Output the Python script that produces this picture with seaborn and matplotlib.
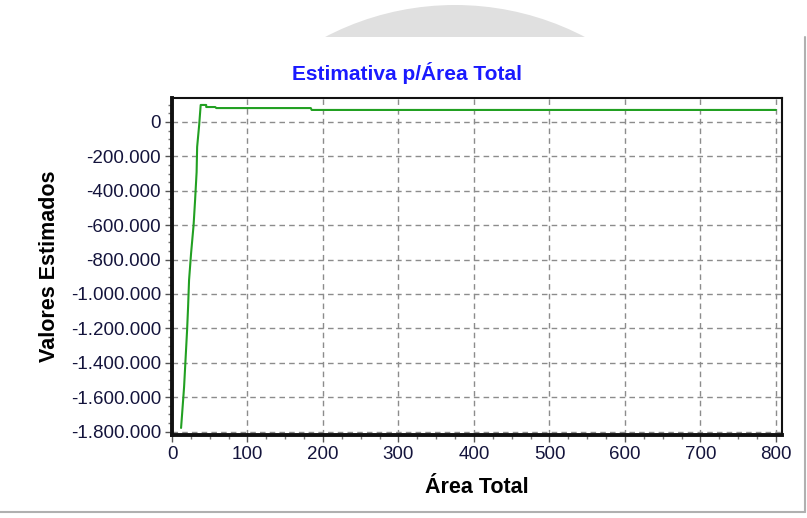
import matplotlib
matplotlib.use('Agg')
import matplotlib.pyplot as plt
import matplotlib.patches as mpatches
from matplotlib.ticker import FuncFormatter, MultipleLocator
import seaborn as sns
import pandas as pd

# values
area_total = [12, 13.3, 16, 20, 21.3, 22.6, 25.3, 28.6, 30.6, 32.6, 33.3, 36, 38,
              45.3, 45.3, 57.3, 58.6, 183.8, 185, 800]
valores = [-1779000, -1703000, -1541000, -1209000, -1076000, -919000, -762000,
           -599000, -453000, -291000, -145000, -17000, 99000,
           99000, 87000, 87000, 81000, 81000, 70000, 70000]

df = pd.DataFrame({'area': area_total, 'valor': valores})

sns.set_style('white')
plt.rcParams['font.family'] = ['Liberation Sans', 'DejaVu Sans']

fig = plt.figure(figsize=(8.07, 5.18), dpi=100)

# faint globe behind the panel and the window edges
fig.patches.append(mpatches.Ellipse((455 / 807, 1 - 285 / 518), 560 / 807, 560 / 518,
                                    transform=fig.transFigure, facecolor='#e0e0e0',
                                    edgecolor='none', zorder=-2))
fig.patches.append(mpatches.Rectangle((0, 0), 1, 1 - 37 / 518, transform=fig.transFigure,
                                      facecolor='white', edgecolor='none', zorder=-1))
fig.lines.append(plt.Line2D([805 / 807, 805 / 807], [1 - 512 / 518, 1 - 37 / 518],
                            transform=fig.transFigure, color='#b0b0b0', lw=1.5))
fig.lines.append(plt.Line2D([0, 805 / 807], [1 - 512 / 518, 1 - 512 / 518],
                            transform=fig.transFigure, color='#b0b0b0', lw=1.5))

ax = fig.add_axes([172 / 807, 1 - 435 / 518, 610 / 807, 337 / 518])
ax.set_zorder(5)
sns.lineplot(data=df, x='area', y='valor', ax=ax, color='#22a022', lw=1.5,
             estimator=None, sort=False)

ax.set_xlim(0, 808)
ax.set_ylim(-1820000, 139500)
ax.xaxis.set_major_locator(MultipleLocator(100))
ax.xaxis.set_minor_locator(MultipleLocator(25))
ax.yaxis.set_major_locator(MultipleLocator(200000))
ax.yaxis.set_minor_locator(MultipleLocator(50000))
ax.yaxis.set_major_formatter(FuncFormatter(lambda v, p: f'{int(round(v)):,}'.replace(',', '.')))

ax.grid(True, which='major', color='#8c8c8c', ls=(0, (4, 3)), lw=1)
ax.tick_params(which='major', direction='out', length=5, width=1, color='#555555',
               labelsize=13.5, labelcolor='#14143c', left=True, bottom=True, pad=3)
ax.tick_params(which='minor', direction='out', length=3, width=1, color='#777777',
               left=True, bottom=True)

for side, w in [('left', 2.8), ('bottom', 2.8), ('top', 1.5), ('right', 1.5)]:
    ax.spines[side].set_visible(True)
    ax.spines[side].set_color('#111111')
    ax.spines[side].set_linewidth(w)

ax.set_xlabel('Área Total', fontsize=15.5, fontweight='bold', color='black', labelpad=10)
ax.set_ylabel('Valores Estimados', fontsize=15.5, fontweight='bold', color='black', labelpad=8)
fig.text(407 / 807, 1 - 73 / 518, 'Estimativa p/Área Total', ha='center', va='center',
         fontsize=15, fontweight='bold', color='#1a1aff')

fig.savefig('out.png', dpi=100)
